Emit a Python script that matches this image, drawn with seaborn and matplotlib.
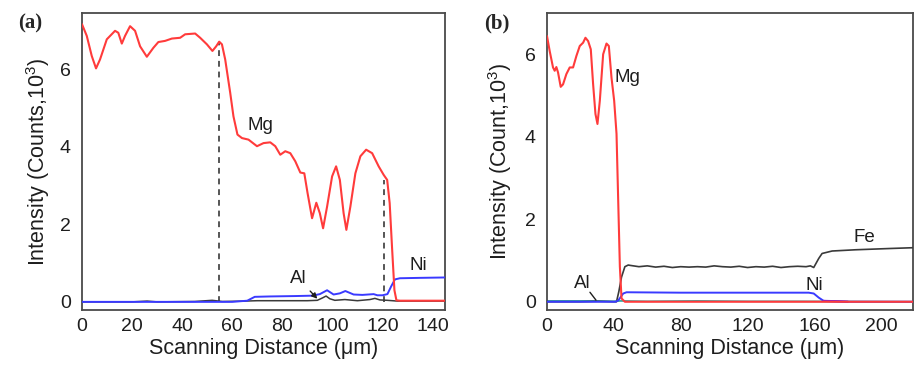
import numpy as np
import pandas as pd
import matplotlib
matplotlib.use("Agg")
import matplotlib.pyplot as plt
import seaborn as sns

# ---------------- data: panel (a) ----------------
mg_a_x = [0, 1.9, 3.9, 5.6, 7.2, 9.9, 13.2, 14.5, 15.9, 17.2, 19.2, 21.2, 23.2, 25.9, 28.5, 30.5,
          33.2, 35.9, 39.2, 41.2, 45.2, 47.2, 49.9, 52.1, 53.6, 54.8, 55.9, 57.2, 59.2, 60.5, 62.1,
          63.9, 66.5, 69.9, 72.5, 75.2, 77.2, 79.2, 81.2, 83.2, 85.2, 87.2, 88.8, 90.1, 91.9, 93.6,
          95.0, 96.3, 97.9, 99.9, 101.5, 103.0, 104.5, 105.6, 107.2, 109.2, 111.2, 113.5, 115.9,
          118.5, 120.5, 121.9, 122.9, 123.9, 124.8, 125.6, 127, 135, 145]
mg_a_y = [7.17, 6.87, 6.35, 6.03, 6.26, 6.78, 7.0, 6.95, 6.67, 6.87, 7.12, 7.0, 6.6, 6.33, 6.56, 6.71,
          6.74, 6.8, 6.82, 6.91, 6.93, 6.82, 6.65, 6.48, 6.6, 6.72, 6.65, 6.26, 5.4, 4.79, 4.32,
          4.23, 4.19, 4.02, 4.10, 4.12, 4.02, 3.8, 3.89, 3.84, 3.63, 3.34, 3.32, 2.81, 2.16, 2.56,
          2.29, 1.9, 2.46, 3.24, 3.5, 3.15, 2.29, 1.86, 2.46, 3.32, 3.76, 3.93, 3.84,
          3.5, 3.28, 3.15, 2.55, 1.34, 0.3, 0.04, 0.03, 0.03, 0.03]

ni_a_x = [0, 30, 60, 66, 69, 75, 85, 92, 95, 97.9, 100.5, 103, 105.2, 108.5, 112, 116.5, 118, 120,
          122, 123.5, 125, 127, 135, 145]
ni_a_y = [0.0, 0.0, 0.0, 0.03, 0.13, 0.14, 0.15, 0.16, 0.2, 0.3, 0.19, 0.22, 0.28, 0.19, 0.18, 0.2,
          0.17, 0.17, 0.2, 0.4, 0.58, 0.61, 0.62, 0.63]

al_a_x = [0, 20, 26, 30, 45, 52, 56, 65, 70, 80, 90, 94, 96, 97.5, 99, 101, 105, 110, 115, 117, 119,
          122, 126, 135, 145]
al_a_y = [0.0, 0.0, 0.02, 0.0, 0.01, 0.04, 0.01, 0.02, 0.03, 0.03, 0.03, 0.04, 0.1, 0.15, 0.08, 0.04,
          0.06, 0.03, 0.06, 0.09, 0.05, 0.04, 0.02, 0.02, 0.02]

dash_a_x = [54.8, 120.8]
dash_a_top = [6.72, 3.15]

# ---------------- data: panel (b) ----------------
mg_b_x = [0, 1.6, 3.6, 4.6, 5.6, 6.6, 8.2, 9.6, 11.6, 13.6, 15.6, 17.6, 19.6, 21.6, 23.0, 24.6,
          26.2, 27.6, 29.0, 30.2, 31.6, 33.6, 35.6, 37.0, 38.6, 40.2, 41.6, 42.6, 43.6, 44.6,
          46.6, 80, 160, 219]
mg_b_y = [6.44, 6.08, 5.68, 5.6, 5.69, 5.56, 5.21, 5.27, 5.52, 5.68, 5.68, 5.96, 6.2, 6.28, 6.4, 6.32,
          6.12, 5.27, 4.55, 4.31, 4.87, 6.0, 6.26, 6.2, 5.43, 4.87, 4.07, 2.46, 0.85, 0.08,
          0.0, 0.0, 0.0, 0.0]

fe_b_x = [0, 20, 30, 41.6, 43.0, 44.6, 46.6, 48.6, 50, 55, 60, 65, 70, 75, 80, 85, 90, 95, 100, 105,
          110, 115, 120, 125, 130, 135, 140, 145, 150, 155, 157.6, 159.6, 162.6, 164.6, 170.6,
          184.6, 204.6, 219]
fe_b_y = [0.0, 0.0, 0.01, 0.0, 0.25, 0.6, 0.85, 0.89, 0.88, 0.85, 0.87, 0.84, 0.86, 0.83, 0.85, 0.84,
          0.85, 0.84, 0.87, 0.85, 0.84, 0.86, 0.83, 0.85, 0.84, 0.86, 0.83, 0.85, 0.86, 0.85,
          0.87, 0.83, 1.05, 1.17, 1.23, 1.26, 1.29, 1.31]

ni_b_x = [0, 30, 41, 42.6, 45.6, 47.6, 80, 120, 156.6, 159.6, 162.6, 165.6, 180, 219]
ni_b_y = [0.0, 0.0, 0.0, 0.03, 0.2, 0.23, 0.22, 0.22, 0.22, 0.2, 0.1, 0.02, 0.0, 0.0]

tail_b_x = [165.6, 170, 174.6, 180]
tail_b_y = [0.02, 0.015, 0.01, 0.0]

al_b_x = [0, 15, 30, 40, 44, 60, 90, 120, 150, 219]
al_b_y = [0.02, 0.02, 0.02, 0.01, 0.02, 0.01, 0.02, 0.01, 0.01, 0.0]

# ---------------- style ----------------
sns.set_style("white")
plt.rcParams['font.family'] = ['Liberation Sans', 'DejaVu Sans']
plt.rcParams['mathtext.fontset'] = 'custom'
plt.rcParams['mathtext.rm'] = 'Liberation Sans'
plt.rcParams['mathtext.it'] = 'Liberation Sans:italic'
plt.rcParams['mathtext.bf'] = 'Liberation Sans:bold'

RED = "#ff3b3b"
BLUE = "#3a3aff"
DARK = "#3a3a3a"
TEAL = "#2aa198"
PURPLE = "#7a22cc"
SPINE = "#4a4a4a"
TXT = "#1e1e1e"

fig = plt.figure(figsize=(9.15, 3.7), dpi=100)
axa = fig.add_axes([82/915, 60/370, 363/915, 297/370])
axb = fig.add_axes([547/915, 60/370, 366/915, 297/370])


def line(ax, xs, ys, color, lw=1.3, z=2):
    df = pd.DataFrame({"x": xs, "y": ys})
    sns.lineplot(data=df, x="x", y="y", ax=ax, color=color, linewidth=lw, zorder=z,
                 estimator=None, sort=False)


# panel (a)
line(axa, al_a_x, al_a_y, DARK, 1.1, 2)
line(axa, ni_a_x, ni_a_y, BLUE, 1.4, 3)
line(axa, mg_a_x, mg_a_y, RED, 1.5, 4)
for xv, top in zip(dash_a_x, dash_a_top):
    axa.plot([xv, xv], [0, top], color="#555555", linestyle=(0, (3, 2.5)), linewidth=1.4, zorder=1)

axa.set_xlim(0, 145)
axa.set_ylim(-0.21, 7.46)
axa.set_xticks([0, 20, 40, 60, 80, 100, 120, 140])
axa.set_yticks([0, 2, 4, 6])
axa.set_xlabel("Scanning Distance (μm)", fontsize=15.5, color=TXT, labelpad=2)
axa.set_ylabel(r"Intensity (Counts,10$^{\mathregular{3}}$)", fontsize=15.5, color=TXT, labelpad=6)
axa.text(71.2, 4.55, "Mg", fontsize=13.5, ha="center", va="center", color=TXT)
axa.text(134.4, 0.95, "Ni", fontsize=13.5, ha="center", va="center", color=TXT)
axa.annotate("Al", xy=(94, 0.08), xytext=(86.4, 0.61), fontsize=13.5, ha="center", va="center",
             color=TXT,
             arrowprops=dict(arrowstyle="-|>", color=TXT, lw=1.0, mutation_scale=8,
                             shrinkA=1, shrinkB=0))

# panel (b)
line(axb, al_b_x, al_b_y, TEAL, 1.2, 2)
line(axb, fe_b_x, fe_b_y, DARK, 1.2, 3)
line(axb, ni_b_x, ni_b_y, BLUE, 1.4, 4)
line(axb, tail_b_x, tail_b_y, PURPLE, 1.6, 4)
line(axb, mg_b_x, mg_b_y, RED, 1.5, 5)

axb.set_xlim(0, 219)
axb.set_ylim(-0.2, 7.0)
axb.set_xticks([0, 40, 80, 120, 160, 200])
axb.set_yticks([0, 2, 4, 6])
axb.set_xlabel("Scanning Distance (μm)", fontsize=15.5, color=TXT, labelpad=2)
axb.set_ylabel(r"Intensity (Count,10$^{\mathregular{3}}$)", fontsize=15.5, color=TXT, labelpad=8)
axb.text(48.4, 5.43, "Mg", fontsize=13.5, ha="center", va="center", color=TXT)
axb.text(189.9, 1.56, "Fe", fontsize=13.5, ha="center", va="center", color=TXT)
axb.text(160, 0.4, "Ni", fontsize=13.5, ha="center", va="center", color=TXT)
axb.text(20.9, 0.45, "Al", fontsize=13.5, ha="center", va="center", color=TXT)
axb.plot([25.7, 29.3], [0.23, 0.04], color=TXT, linewidth=1.0, zorder=6)

for ax in (axa, axb):
    for sp in ax.spines.values():
        sp.set_visible(True)
        sp.set_color(SPINE)
        sp.set_linewidth(1.3)
    ax.tick_params(axis="x", direction="in", length=4, width=1.0, color=SPINE,
                   labelsize=14, labelcolor=TXT, pad=6)
    ax.tick_params(axis="y", direction="in", length=0, labelsize=14, labelcolor=TXT, pad=8)

fig.text(30/915, 1 - 23/370, "(a)", fontsize=15, fontweight="bold",
         family=["Liberation Serif", "DejaVu Serif"], ha="center", va="center")
fig.text(497/915, 1 - 23/370, "(b)", fontsize=15, fontweight="bold",
         family=["Liberation Serif", "DejaVu Serif"], ha="center", va="center")

fig.savefig("out.png", dpi=100)
